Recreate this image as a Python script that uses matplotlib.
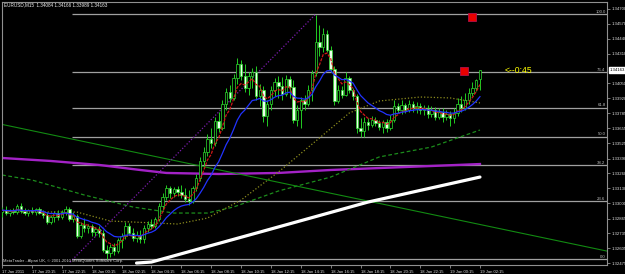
import matplotlib
matplotlib.use("Agg")
import matplotlib.pyplot as plt
from matplotlib.patches import Rectangle

plt.rcParams['font.family'] = ['Liberation Sans', 'DejaVu Sans']

# ---- data ----
symbol = "EURUSD,M15"

opens = [1.32922, 1.32939, 1.32913, 1.32931, 1.32922, 1.32974, 1.32931, 1.32913, 1.32939, 1.32922,
         1.32948, 1.32913, 1.32896, 1.32834, 1.32878, 1.32913, 1.32878, 1.32922, 1.32948, 1.32861,
         1.32887, 1.32712, 1.32808, 1.32782, 1.32799, 1.32747, 1.32773, 1.32738, 1.32589, 1.32563,
         1.32615, 1.32580, 1.32677, 1.32712, 1.32799, 1.32738, 1.32694, 1.32720, 1.32685, 1.32782,
         1.32817, 1.32799, 1.32861, 1.32974, 1.33053, 1.33132, 1.33088, 1.33123, 1.33097, 1.33071,
         1.33036, 1.33018, 1.33132, 1.33220, 1.33369, 1.33448, 1.33561, 1.33526, 1.33719, 1.33658,
         1.33868, 1.33973, 1.33921, 1.34096, 1.34218, 1.34113, 1.34008, 1.34113, 1.34148, 1.33938,
         1.33991, 1.33763, 1.33868, 1.33991, 1.34061, 1.34026, 1.33956, 1.34087, 1.34017, 1.33728,
         1.33815, 1.33903, 1.33868, 1.33991, 1.34140, 1.34411, 1.34367, 1.34481, 1.34341, 1.34175,
         1.33894, 1.33991, 1.33947, 1.34096, 1.33991, 1.33938, 1.33658, 1.33631, 1.33710, 1.33684,
         1.33728, 1.33702, 1.33666, 1.33710, 1.33658, 1.33728, 1.33851, 1.33815, 1.33859, 1.33815,
         1.33868, 1.33833, 1.33851, 1.33815, 1.33833, 1.33780, 1.33815, 1.33754, 1.33798, 1.33754,
         1.33780, 1.33745, 1.33789, 1.33868, 1.33833, 1.33903, 1.33964, 1.34008, 1.34084]
highs = [1.32966, 1.32974, 1.32948, 1.32957, 1.32992, 1.33001, 1.32957, 1.32948, 1.32966, 1.32957,
         1.32966, 1.32939, 1.32922, 1.32896, 1.32931, 1.32939, 1.32939, 1.32974, 1.32966, 1.32922,
         1.32904, 1.32834, 1.32869, 1.32817, 1.32817, 1.32791, 1.32799, 1.32764, 1.32633, 1.32642,
         1.32650, 1.32694, 1.32738, 1.32834, 1.32826, 1.32782, 1.32756, 1.32764, 1.32808, 1.32843,
         1.32861, 1.32878, 1.33001, 1.33088, 1.33161, 1.33153, 1.33145, 1.33153, 1.33161, 1.33132,
         1.33115, 1.33153, 1.33255, 1.33404, 1.33491, 1.33605, 1.33658, 1.33754, 1.33798, 1.33903,
         1.34008, 1.34034, 1.34131, 1.34271, 1.34253, 1.34218, 1.34148, 1.34183, 1.34201, 1.34043,
         1.34026, 1.33903, 1.34026, 1.34096, 1.34113, 1.34104, 1.34122, 1.34113, 1.34078, 1.33859,
         1.33929, 1.33947, 1.34034, 1.34166, 1.34648, 1.34560, 1.34534, 1.34516, 1.34376, 1.34201,
         1.34034, 1.34026, 1.34148, 1.34113, 1.34008, 1.33956, 1.33745, 1.33754, 1.33745, 1.33763,
         1.33754, 1.33728, 1.33728, 1.33737, 1.33772, 1.33903, 1.33877, 1.33903, 1.33877, 1.33903,
         1.33894, 1.33886, 1.33877, 1.33859, 1.33859, 1.33851, 1.33842, 1.33833, 1.33833, 1.33815,
         1.33807, 1.33833, 1.33921, 1.33938, 1.33964, 1.34008, 1.34061, 1.34087, 1.34166]
lows = [1.32878, 1.32896, 1.32887, 1.32904, 1.32904, 1.32913, 1.32896, 1.32887, 1.32904, 1.32896,
        1.32904, 1.32869, 1.32817, 1.32817, 1.32834, 1.32852, 1.32861, 1.32896, 1.32843, 1.32834,
        1.32694, 1.32694, 1.32747, 1.32738, 1.32712, 1.32712, 1.32703, 1.32571, 1.32510, 1.32528,
        1.32545, 1.32563, 1.32607, 1.32685, 1.32720, 1.32668, 1.32659, 1.32650, 1.32650, 1.32747,
        1.32773, 1.32782, 1.32843, 1.32939, 1.33027, 1.33044, 1.33053, 1.33062, 1.33044, 1.33009,
        1.32983, 1.33001, 1.33106, 1.33194, 1.33325, 1.33413, 1.33483, 1.33500, 1.33623, 1.33640,
        1.33815, 1.33886, 1.33903, 1.34043, 1.34078, 1.33973, 1.33947, 1.34008, 1.33903, 1.33851,
        1.33710, 1.33675, 1.33815, 1.33938, 1.33921, 1.33903, 1.33938, 1.33921, 1.33702, 1.33675,
        1.33658, 1.33815, 1.33851, 1.33894, 1.34113, 1.34288, 1.34323, 1.34323, 1.34148, 1.33859,
        1.33877, 1.33921, 1.33938, 1.33964, 1.33903, 1.33614, 1.33579, 1.33579, 1.33640, 1.33666,
        1.33675, 1.33640, 1.33614, 1.33623, 1.33640, 1.33710, 1.33789, 1.33780, 1.33789, 1.33798,
        1.33798, 1.33789, 1.33780, 1.33772, 1.33745, 1.33754, 1.33728, 1.33737, 1.33710, 1.33728,
        1.33675, 1.33702, 1.33763, 1.33798, 1.33815, 1.33868, 1.33938, 1.33982, 1.33989]
closes = [1.32939, 1.32913, 1.32931, 1.32922, 1.32974, 1.32931, 1.32913, 1.32939, 1.32922, 1.32948,
          1.32913, 1.32896, 1.32834, 1.32878, 1.32913, 1.32878, 1.32922, 1.32948, 1.32861, 1.32896,
          1.32712, 1.32808, 1.32782, 1.32799, 1.32747, 1.32773, 1.32738, 1.32589, 1.32563, 1.32615,
          1.32580, 1.32677, 1.32712, 1.32799, 1.32738, 1.32694, 1.32720, 1.32685, 1.32782, 1.32817,
          1.32799, 1.32861, 1.32974, 1.33053, 1.33132, 1.33088, 1.33123, 1.33097, 1.33071, 1.33036,
          1.33018, 1.33132, 1.33220, 1.33369, 1.33448, 1.33561, 1.33526, 1.33719, 1.33658, 1.33868,
          1.33973, 1.33921, 1.34096, 1.34218, 1.34113, 1.34008, 1.34113, 1.34148, 1.33938, 1.33991,
          1.33763, 1.33868, 1.33991, 1.34061, 1.34026, 1.33956, 1.34087, 1.34017, 1.33728, 1.33815,
          1.33903, 1.33868, 1.33991, 1.34140, 1.34411, 1.34367, 1.34481, 1.34341, 1.34175, 1.33894,
          1.33991, 1.33947, 1.34096, 1.33991, 1.33938, 1.33658, 1.33631, 1.33710, 1.33684, 1.33728,
          1.33702, 1.33666, 1.33710, 1.33658, 1.33728, 1.33851, 1.33815, 1.33859, 1.33815, 1.33868,
          1.33833, 1.33851, 1.33815, 1.33833, 1.33780, 1.33815, 1.33754, 1.33798, 1.33754, 1.33780,
          1.33745, 1.33789, 1.33868, 1.33833, 1.33903, 1.33964, 1.34008, 1.34078, 1.34163]

time_labels = ["17 Jan 2011", "17 Jan 20:15", "17 Jan 22:15", "18 Jan 00:15", "18 Jan 02:15",
               "18 Jan 04:15", "18 Jan 06:15", "18 Jan 08:15", "18 Jan 10:15", "18 Jan 12:15",
               "18 Jan 14:15", "18 Jan 16:15", "18 Jan 18:15", "18 Jan 20:15", "18 Jan 22:15",
               "19 Jan 00:15", "19 Jan 02:15"]
time_label_bars = [0, 8, 16, 24, 32, 40, 48, 56, 64, 72, 80, 88, 96, 104, 112, 120, 128]

price_ticks = [1.32475, 1.32605, 1.32735, 1.32865, 1.33000, 1.33130, 1.33260, 1.33390, 1.33525,
               1.33655, 1.33785, 1.33920, 1.34050, 1.34310, 1.34440, 1.34570, 1.34700]

# slow moving averages (read as sample points: bar index, price)
olive_bars = [0, 20, 29, 47, 55, 64, 74, 85, 93, 101, 112, 120, 128]
olive_vals = [1.32922, 1.32922, 1.32843, 1.32817, 1.32869, 1.33027, 1.33272, 1.33570, 1.33789,
              1.33894, 1.33929, 1.33921, 1.33877]
green_ma_bars = [0, 8, 22, 35, 46, 55, 62, 74, 88, 101, 115, 128]
green_ma_vals = [1.33246, 1.33202, 1.33071, 1.32966, 1.32913, 1.32913, 1.32966, 1.33106, 1.33228,
                 1.33404, 1.33491, 1.33640]
purple_ma_bars = [0, 13, 26, 37, 44, 58, 74, 88, 101, 115, 128]
purple_ma_vals = [1.33395, 1.33369, 1.33334, 1.33290, 1.33264, 1.33255, 1.33264, 1.33290, 1.33307,
                  1.33325, 1.33342]
white_bars = [36, 40, 71, 98, 128]
white_vals = [1.32475, 1.32484, 1.32764, 1.33009, 1.33228]

# drawn objects
trend_bars = [-0.6, 162.0]
trend_vals = [1.33693, 1.32580]
channel_bars = [18.2, 83.8]
channel_vals = [1.32484, 1.34648]
fib_start_bar = 18.7
fib_low, fib_high = 1.32510, 1.34655
fib_levels = [0.0, 23.6, 38.2, 50.0, 61.8, 76.4, 100.0]
signal_bars = [123.7, 125.9]
signal_vals = [1.34157, 1.34630]


def ema(values, period):
    k = 2.0 / (period + 1)
    out = [values[0]]
    for v in values[1:]:
        out.append(out[-1] + k * (v - out[-1]))
    return out


bars = list(range(len(closes)))
x_right = 162.03

fig = plt.figure(figsize=(6.25, 2.74), dpi=100, facecolor='black')
ax = fig.add_axes([2 / 625, 9 / 274, 605 / 625, 263 / 274])
ax.set_facecolor('black')
ax.set_xlim(-0.035, x_right)
ax.set_ylim(1.32458, 1.34761)

# fibonacci retracement
for lvl in fib_levels:
    p = fib_low + (fib_high - fib_low) * lvl / 100.0
    ax.hlines(p, fib_start_bar, x_right, color='#a0a0a0', lw=0.9, zorder=1)
    ax.text(x_right - 0.4, p + 0.00003, f"{lvl:.1f}", ha='right', va='bottom',
            fontsize=3.1, color='#c0c0c0', zorder=1)

# long indicators
ax.plot(purple_ma_bars, purple_ma_vals, color='#a322c6', lw=1.7, zorder=2)
ax.plot(green_ma_bars, green_ma_vals, color='#1c8c1c', lw=0.9, dashes=(3, 2), zorder=2)
ax.plot(olive_bars, olive_vals, color='#8c8c1e', lw=0.9, dashes=(1, 1.6), zorder=2)
ax.plot(trend_bars, trend_vals, color='#128a12', lw=0.8, zorder=2)
ax.plot(channel_bars, channel_vals, color='#7c1cae', lw=0.9, dashes=(1, 1.5), zorder=2)
ax.plot(white_bars, white_vals, color='white', lw=2.3, solid_capstyle='round', zorder=2)

# candles
for i in bars:
    o, h, l, c = opens[i], highs[i], lows[i], closes[i]
    ax.vlines(i, l, h, color='#22cc22', lw=0.7, zorder=3)
    bottom = min(o, c)
    height = max(abs(c - o), 0.00002)
    face = 'black' if c > o else '#eaffea'
    ax.add_patch(Rectangle((i - 0.32, bottom), 0.64, height, facecolor=face,
                           edgecolor='#2ee02e', lw=0.5, zorder=4))

# fast moving averages
ax.plot(bars, ema(closes, 5), color='#d01818', lw=0.9, dashes=(2.5, 1), zorder=5)
ax.plot(bars, ema(closes, 13), color='#2233ff', lw=0.9, zorder=5)

# signal squares
ax.plot(signal_bars, signal_vals, 's', color='#e80000', markersize=5.6,
        markeredgecolor='#b0104a', markeredgewidth=0.6, zorder=6)

# candle timer
ax.text(134.7, closes[-1], "<--0:45", color='#ffff00', fontsize=6.2,
        ha='left', va='center', zorder=6)

# axes styling
for sp in ax.spines.values():
    sp.set_color('#909090')
    sp.set_linewidth(0.8)
ax.yaxis.tick_right()
ax.set_yticks(price_ticks)
ax.set_yticklabels([f"{p:.5f}" for p in price_ticks])
ax.tick_params(axis='y', length=2, width=0.6, color='#909090', labelcolor='#e0e0e0',
               labelsize=3.1, pad=1)
ax.set_xticks(time_label_bars)
ax.set_xticklabels(time_labels)
ax.tick_params(axis='x', length=2.2, width=0.6, color='#909090', labelcolor='#e0e0e0',
               labelsize=3.0, pad=1.2)
for lbl in ax.get_xticklabels():
    lbl.set_horizontalalignment('left')

# current price box
ax.annotate(f"{closes[-1]:.5f}", xy=(1, closes[-1]), xycoords=('axes fraction', 'data'),
            xytext=(3, 0), textcoords='offset pixels', fontsize=3.1, color='black',
            ha='left', va='center', annotation_clip=False, zorder=7,
            bbox=dict(boxstyle='square,pad=0.2', fc='white', ec='white'))

header = f"{symbol}  {opens[-1]:.5f} {highs[-1]:.5f} {lows[-1]:.5f} {closes[-1]:.5f}"
fig.text(4 / 625, 1 - 5 / 274, header, fontsize=3.3, color='#f0f0f0', va='center', ha='left')
fig.text(3 / 625, 1 - 261 / 274, "MetaTrader - Alpari UK, \u00a9 2001-2010 MetaQuotes Software Corp.",
         fontsize=3.0, color='#d8d8d8', va='center', ha='left')

fig.savefig('out.png', dpi=100, facecolor='black')
